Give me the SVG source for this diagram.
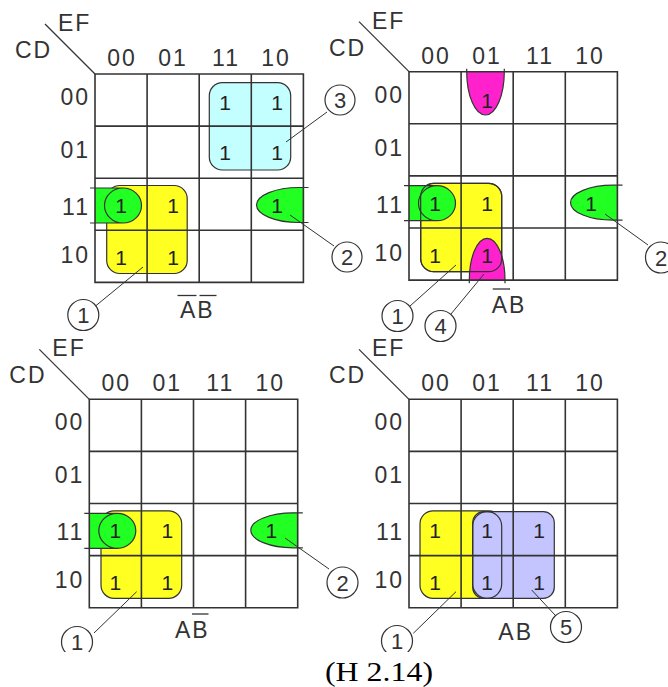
<svg xmlns="http://www.w3.org/2000/svg" width="668" height="687" viewBox="0 0 668 687">
<defs>
<style>
.lbl{font-family:"Liberation Sans",Arial,sans-serif;font-size:23px;fill:#333;letter-spacing:2px}
.mid{text-anchor:middle}
.end{text-anchor:end}
.one{font-family:"Liberation Sans",Arial,sans-serif;font-size:21px;fill:#222;text-anchor:middle}
.grid{fill:none;stroke:#333;stroke-width:1.6}
.ol{fill:none;stroke:#333;stroke-width:1.2}
.yel{fill:#ffff22;stroke:#333;stroke-width:1.2}
.cya{fill:#c4ffff;stroke:#333;stroke-width:1.2}
.grn{fill:#22ff22;stroke:none}
.mag{fill:#ff22cc;stroke:none}
.blu{fill:#c4c4ff;stroke:#333;stroke-width:1.2}
.diag{stroke:#333;stroke-width:1.2}
.conn{stroke:#333;stroke-width:1;fill:none}
.circ{fill:none;stroke:#333;stroke-width:1.2}
.cnum{font-family:"Liberation Sans",Arial,sans-serif;font-size:22px;fill:#333;text-anchor:middle}
.ovl{stroke:#333;stroke-width:1.3}
.cap{font-family:"Liberation Serif","Times New Roman",serif;font-size:27px;fill:#000}
</style>
<clipPath id="clipb"><rect x="0" y="0" width="668" height="652"/></clipPath>
<path id="gridp" d="M0,0H208.4V208.4H0Z M52.1,0V208.4 M104.2,0V208.4 M156.3,0V208.4 M0,52.1H208.4 M0,104.2H208.4 M0,156.3H208.4"/>
<g id="hdr">
<line class="diag" x1="-50" y1="-50" x2="0" y2="0"/>
<text class="lbl" x="-37" y="-43">EF</text>
<text class="lbl" x="-80" y="-16">CD</text>
<text class="lbl mid" x="27" y="-8">00</text>
<text class="lbl mid" x="78" y="-8">01</text>
<text class="lbl mid" x="131" y="-8">11</text>
<text class="lbl mid" x="181" y="-8">10</text>
<text class="lbl end" x="-5" y="31">00</text>
<text class="lbl end" x="-5" y="84">01</text>
<text class="lbl end" x="-5" y="141">11</text>
<text class="lbl end" x="-5" y="189">10</text>
</g>
<path id="gl" class="grn" d="M0,114 H28 A18.5,17.5 0 0 1 28,149 H0 Z"/>
<path id="glo" class="ol" d="M-5,114 H28 A18.5,17.5 0 0 1 28,149 H-5 M28,114 A18.5,17.5 0 0 0 28,149"/>
<path id="gr" class="grn" d="M208.4,113.5 H204 A42.5,17.5 0 0 0 204,148.5 H208.4 Z"/>
<path id="gro" class="ol" d="M213.5,113.5 H204 A42.5,17.5 0 0 0 204,148.5 H213.5"/>
</defs>

<g id="kmap1" transform="translate(95,74)">
<rect class="yel" x="11.7" y="111.5" width="80.5" height="88" rx="13"/>
<rect class="cya" x="114.3" y="8.7" width="81.4" height="87.3" rx="13"/>
<use href="#gl"/><use href="#gr"/>
<use href="#gridp" class="grid"/>
<use href="#glo"/><use href="#gro"/>
<use href="#hdr"/>
<text class="one" x="130" y="36">1</text><text class="one" x="182" y="36">1</text>
<text class="one" x="130" y="86">1</text><text class="one" x="182" y="86">1</text>
<text class="one" x="26" y="139">1</text><text class="one" x="78" y="139">1</text><text class="one" x="182" y="139">1</text>
<text class="one" x="26" y="191">1</text><text class="one" x="78" y="191">1</text>
</g>

<g id="kmap2" transform="translate(409,71.7)">
<rect class="yel" x="11.7" y="111.6" width="81" height="88.4" rx="13"/>
<use href="#gl"/><use href="#gr"/>
<path class="mag" d="M57.7,0 A18.8,43.3 0 0 0 95.3,0 Z"/>
<path class="mag" d="M60.3,208.4 A17.85,41.8 0 0 1 96,208.4 Z"/>
<use href="#gridp" class="grid"/>
<rect class="ol" x="11.7" y="111.6" width="81" height="88.4" rx="13"/>
<use href="#glo"/><use href="#gro"/>
<path class="ol" d="M57.7,-3 V0 A18.8,43.3 0 0 0 95.3,0 V-3"/>
<path class="ol" d="M60.3,211.5 V208.4 A17.85,41.8 0 0 1 96,208.4 V211.5"/>
<use href="#hdr"/>
<text class="one" x="78" y="36">1</text>
<text class="one" x="26" y="139">1</text><text class="one" x="78" y="139">1</text><text class="one" x="182" y="139">1</text>
<text class="one" x="26" y="191">1</text><text class="one" x="78" y="191">1</text>
</g>

<g id="kmap3" transform="translate(89.3,399.3)">
<rect class="yel" x="11.7" y="111.5" width="80.7" height="87.5" rx="13"/>
<use href="#gl"/><use href="#gr"/>
<use href="#gridp" class="grid"/>
<use href="#glo"/><use href="#gro"/>
<use href="#hdr"/>
<text class="one" x="26" y="139">1</text><text class="one" x="78" y="139">1</text><text class="one" x="182" y="139">1</text>
<text class="one" x="26" y="191">1</text><text class="one" x="78" y="191">1</text>
</g>

<g id="kmap4" transform="translate(409,399.3)">
<rect class="yel" x="11" y="111.5" width="82" height="87.5" rx="13"/>
<rect class="blu" x="63.7" y="112.4" width="81.6" height="86.6" rx="11"/>
<use href="#gridp" class="grid"/>
<rect class="ol" x="63.7" y="112.4" width="29" height="86.6" rx="14.5"/>
<use href="#hdr"/>
<text class="one" x="26" y="139">1</text><text class="one" x="78" y="139">1</text><text class="one" x="130" y="139">1</text>
<text class="one" x="26" y="191">1</text><text class="one" x="78" y="191">1</text><text class="one" x="130" y="191">1</text>
</g>

<g id="connectors">
<line class="conn" x1="286" y1="142" x2="327" y2="112"/>
<line class="conn" x1="290" y1="215" x2="334" y2="246"/>
<line class="conn" x1="143" y1="267" x2="95.5" y2="306"/>
<line class="conn" x1="456" y1="265" x2="410" y2="306"/>
<line class="conn" x1="484" y1="274" x2="451" y2="314"/>
<line class="conn" x1="605" y1="214" x2="648" y2="245"/>
<line class="conn" x1="136.7" y1="591.7" x2="94" y2="633"/>
<line class="conn" x1="285" y1="538" x2="329" y2="569"/>
<line class="conn" x1="456" y1="591.7" x2="413.3" y2="633.3"/>
<line class="conn" x1="531.7" y1="590" x2="555" y2="615"/>
</g>

<g id="callout3"><circle class="circ" cx="340" cy="100" r="15"/><text class="cnum" x="340" y="108">3</text></g>
<g id="callout2a"><circle class="circ" cx="347" cy="257" r="15"/><text class="cnum" x="347" y="265">2</text></g>
<g id="callout1a"><circle class="circ" cx="83.3" cy="315" r="15.5"/><text class="cnum" x="83.3" y="323">1</text></g>
<g id="callout1b"><circle class="circ" cx="397.5" cy="316" r="15.5"/><text class="cnum" x="397.5" y="324">1</text></g>
<g id="callout4"><circle class="circ" cx="440.5" cy="326" r="15.5"/><text class="cnum" x="440.5" y="334">4</text></g>
<g id="callout2b"><circle class="circ" cx="661" cy="257.5" r="15.5"/><text class="cnum" x="661" y="265.5">2</text></g>
<g id="callout2c"><circle class="circ" cx="342.5" cy="582.5" r="15.5"/><text class="cnum" x="342.5" y="590.5">2</text></g>
<g id="callout1c" clip-path="url(#clipb)"><circle class="circ" cx="77" cy="642" r="15.5"/><text class="cnum" x="77" y="650">1</text></g>
<g id="callout1d" clip-path="url(#clipb)"><circle class="circ" cx="397" cy="641" r="15.5"/><text class="cnum" x="397" y="649">1</text></g>
<g id="callout5"><circle class="circ" cx="566" cy="627" r="15.5"/><text class="cnum" x="566" y="635">5</text></g>

<g id="label1"><text class="lbl" x="180" y="318">AB</text><line class="ovl" x1="177.5" y1="295.5" x2="196.5" y2="295.5"/><line class="ovl" x1="199.5" y1="295.5" x2="216.5" y2="295.5"/></g>
<g id="label2"><text class="lbl" x="491.7" y="313.3">AB</text><line class="ovl" x1="492.7" y1="289" x2="510" y2="289"/></g>
<g id="label3"><text class="lbl" x="175" y="638.3">AB</text><line class="ovl" x1="192" y1="614" x2="208.5" y2="614"/></g>
<g id="label4"><text class="lbl" x="498.3" y="640">AB</text></g>

<text class="cap" x="325" y="681" textLength="108" lengthAdjust="spacingAndGlyphs">(H 2.14)</text>
</svg>
